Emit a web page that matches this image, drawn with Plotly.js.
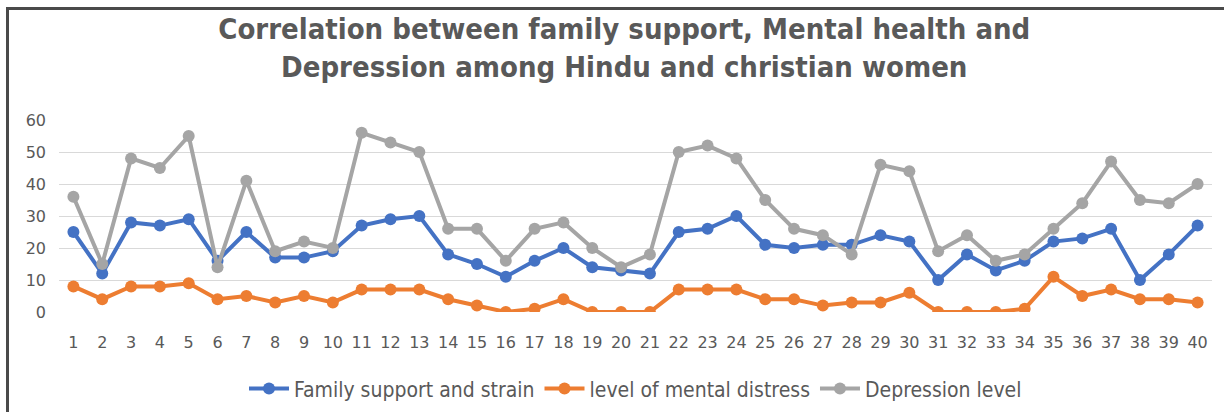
<!DOCTYPE html>
<html>
<head>
<meta charset="utf-8">
<script src="https://cdn.plot.ly/plotly-3.0.1.min.js"></script>
<style>
  html, body { margin: 0; padding: 0; background: #fff; }
  #wrap { position: relative; width: 1224px; height: 412px; }
  #chart { position: absolute; left: 0; top: 0; width: 1224px; height: 412px; }
  #frame { position: absolute; left: 6px; top: 7px; width: 1230px; height: 420px;
           border-top: 3px solid #4a4a4a; border-left: 3px solid #4a4a4a; pointer-events: none; }
</style>
</head>
<body>
<div id="wrap">
  <div id="chart"></div>
  <div id="frame"></div>
</div>
<script>
const categories = ["1","2","3","4","5","6","7","8","9","10","11","12","13","14","15","16","17","18","19","20",
                    "21","22","23","24","25","26","27","28","29","30","31","32","33","34","35","36","37","38","39","40"];
const familySupport = [25,12,28,27,29,16,25,17,17,19,27,29,30,18,15,11,16,20,14,13,
                       12,25,26,30,21,20,21,21,24,22,10,18,13,16,22,23,26,10,18,27];
const mentalDistress = [8,4,8,8,9,4,5,3,5,3,7,7,7,4,2,0,1,4,0,0,
                        0,7,7,7,4,4,2,3,3,6,0,0,0,1,11,5,7,4,4,3];
const depression = [36,15,48,45,55,14,41,19,22,20,56,53,50,26,26,16,26,28,20,14,
                    18,50,52,48,35,26,24,18,46,44,19,24,16,18,26,34,47,35,34,40];
const seriesNames = ["Family support and strain", "level of mental distress", "Depression level"];
const yTicks = [0,10,20,30,40,50,60];

const condFam = "'DejaVu Sans Condensed', 'Liberation Sans Narrow', 'Open Sans', sans-serif";
const tickFam = "'DejaVu Sans', 'Open Sans', sans-serif";
const textColor = "#595959";

function mk(name, y, color) {
  return {
    type: "scatter", mode: "lines+markers", name: name,
    x: categories, y: y,
    line: { color: color, width: 4 },
    marker: { color: color, size: 12 }
  };
}

const data = [
  mk(seriesNames[0], familySupport, "#4472C4"),
  mk(seriesNames[1], mentalDistress, "#ED7D31"),
  mk(seriesNames[2], depression, "#A5A5A5")
];

const layout = {
  width: 1224, height: 412,
  margin: { l: 59, r: 12, t: 120, b: 100, autoexpand: false },
  paper_bgcolor: "#ffffff", plot_bgcolor: "#ffffff",
  title: {
    text: "<b>Correlation between family support, Mental health and<br>Depression among Hindu and christian women</b>",
    font: { family: condFam, size: 29, color: textColor },
    x: 0.51, xanchor: "center", y: 0.905, yanchor: "top", automargin: false
  },
  xaxis: {
    type: "category", categoryorder: "array", categoryarray: categories,
    range: [-0.5, 39.5],
    tickfont: { family: tickFam, size: 16, color: textColor },
    showgrid: false, showline: false, ticks: "", ticklabelstandoff: 19,
    zeroline: false, fixedrange: true, automargin: false
  },
  yaxis: {
    range: [0, 60], tickvals: yTicks,
    tickfont: { family: tickFam, size: 16, color: textColor },
    showgrid: true, gridcolor: "#d9d9d9", gridwidth: 1,
    zeroline: false, showline: false, ticks: "", ticklabelstandoff: 12,
    fixedrange: true, automargin: false
  },
  showlegend: true,
  legend: {
    orientation: "h", x: 0.5, xanchor: "center", y: -0.40, yanchor: "middle",
    font: { family: condFam, size: 21, color: textColor },
    itemwidth: 40, tracegroupgap: 0
  }
};

Plotly.newPlot("chart", data, layout, { displayModeBar: false, staticPlot: true });
</script>
</body>
</html>
